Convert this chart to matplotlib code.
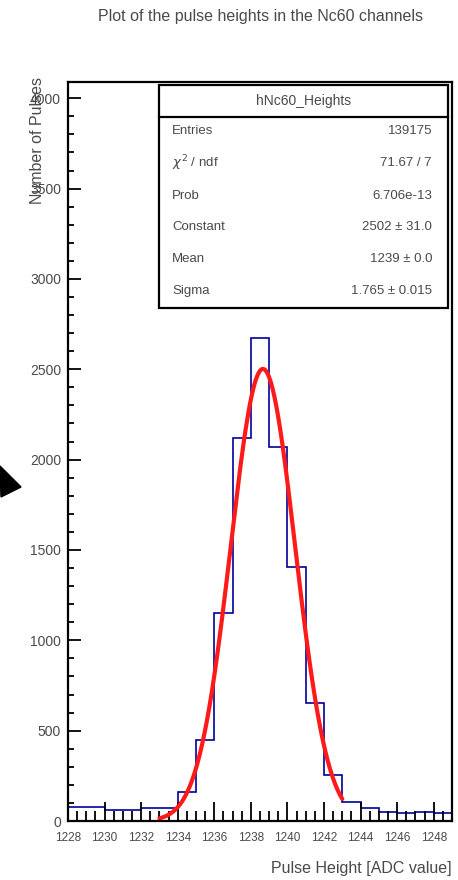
import numpy as np
import matplotlib
matplotlib.use("Agg")
import matplotlib.pyplot as plt
from matplotlib.patches import Rectangle, Polygon
from matplotlib.lines import Line2D

plt.rcParams['font.family'] = ['Liberation Sans', 'DejaVu Sans']

# histogram data (bins of width 1 ADC count)
bin_edges = np.arange(1228, 1250)
counts = [75, 75, 60, 60, 72, 72, 162, 448, 1150, 2119, 2673,
          2070, 1406, 653, 255, 107, 72, 50, 45, 50, 42]

# gaussian fit parameters as in the stats box
fit_const = 2502.0
fit_mean = 1238.66
fit_sigma = 1.765
fit_range = (1233.0, 1243.0)

stats_name = "hNc60_Heights"
stats_labels = ["Entries", r"$\chi^{2}$ / ndf", "Prob", "Constant", "Mean", "Sigma"]
stats_values = ["139175", "71.67 / 7", "6.706e-13", "2502 \u00b1 31.0",
                "1239 \u00b1 0.0", "1.765 \u00b1 0.015"]

txt_col = '#4a4a4a'

W, H = 458, 880
fig = plt.figure(figsize=(W / 100, H / 100), dpi=100)
fig.patch.set_facecolor('white')

def fx(px):
    return px / W

def fy(py):
    return 1 - py / H

ax = fig.add_axes([fx(68), fy(821), fx(452) - fx(68), fy(82) - fy(821)])

ax.stairs(counts, bin_edges, color='#000099', lw=1.2)

xs = np.linspace(fit_range[0], fit_range[1], 300)
ys = fit_const * np.exp(-0.5 * ((xs - fit_mean) / fit_sigma) ** 2)
ax.plot(xs, ys, color='#ff1a1a', lw=3.0, solid_capstyle='round')

ax.set_xlim(1228, 1249)
ax.set_ylim(0, 4090)
ax.set_xticks(np.arange(1228, 1249, 2))
ax.set_xticks(np.arange(1228, 1249.1, 0.5), minor=True)
ax.set_yticks(np.arange(0, 4001, 500))
ax.set_yticks(np.arange(0, 4001, 100), minor=True)

ax.tick_params(axis='x', which='major', direction='in', length=14, width=1.3,
               labelsize=8.5, pad=8, colors='black', labelcolor=txt_col)
ax.tick_params(axis='x', which='minor', direction='in', length=7, width=1.3)
ax.tick_params(axis='y', which='major', direction='in', length=9, width=1.3,
               labelsize=10, pad=5, labelcolor=txt_col)
ax.tick_params(axis='y', which='minor', direction='in', length=4.5, width=1.3)
for s in ax.spines.values():
    s.set_linewidth(1.6)

# titles
fig.text(fx(260), fy(16), "Plot of the pulse heights in the Nc60 channels",
         ha='center', va='center', fontsize=11.5, color=txt_col)
fig.text(fx(452), fy(868), "Pulse Height [ADC value]", ha='right', va='center',
         fontsize=11.5, color=txt_col)
fig.text(fx(38), fy(77), "Number of Pulses", rotation=90, ha='center', va='top',
         fontsize=11.5, color=txt_col)

# stats box
bx0, bx1, by_top, by_bot, by_head = 159, 448, 85, 308, 117
fig.patches.append(Rectangle((fx(bx0), fy(by_bot)), fx(bx1) - fx(bx0), fy(by_top) - fy(by_bot),
                             transform=fig.transFigure, facecolor='white',
                             edgecolor='black', lw=1.6, zorder=5))
fig.lines.append(Line2D([fx(bx0), fx(bx1)], [fy(by_head), fy(by_head)],
                        transform=fig.transFigure, color='black', lw=1.6, zorder=6))
fig.text(fx((bx0 + bx1) / 2), fy(101), stats_name, ha='center', va='center',
         fontsize=10, color=txt_col, zorder=7)
row_y = [131, 163, 196, 227, 259, 291]
for lab, val, ry in zip(stats_labels, stats_values, row_y):
    fig.text(fx(172), fy(ry), lab, ha='left', va='center', fontsize=9.5,
             color=txt_col, zorder=7)
    fig.text(fx(432), fy(ry), val, ha='right', va='center', fontsize=9.5,
             color=txt_col, zorder=7)

# black pointer on the left edge
fig.patches.append(Polygon([(fx(0), fy(466)), (fx(21), fy(487)), (fx(1), fy(497))],
                           closed=True, transform=fig.transFigure,
                           facecolor='black', edgecolor='black', zorder=8))

fig.savefig("out.png", dpi=100)
